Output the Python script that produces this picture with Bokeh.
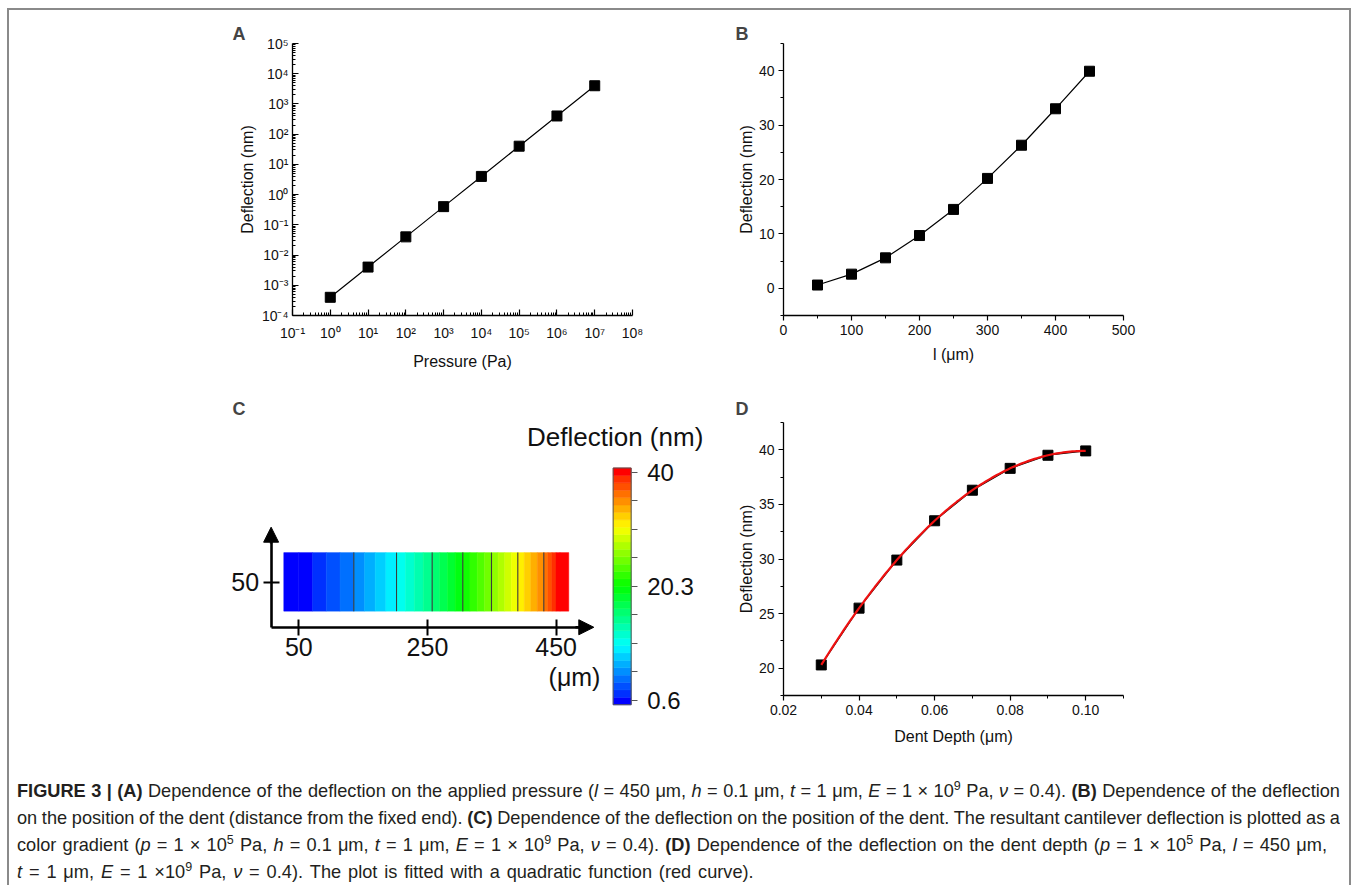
import numpy as np
from bokeh.plotting import figure
from bokeh.models import (FixedTicker, LinearAxis, Range1d, Spacer, Div, Arrow,
                          NormalHead, NumeralTickFormatter)
from bokeh.layouts import row, column
from bokeh.embed import file_html
from bokeh.resources import INLINE
from bokeh.core.properties import value

# ---------------- data ----------------
# Panel A: deflection vs applied pressure (log-log)
a_pressure = [1e0, 1e1, 1e2, 1e3, 1e4, 1e5, 1e6, 1e7]
a_deflection = [4e-4, 4e-3, 4e-2, 0.4, 4.0, 40.0, 400.0, 4000.0]
a_x_exponents = [-1, 0, 1, 2, 3, 4, 5, 6, 7, 8]
a_y_exponents = [-4, -3, -2, -1, 0, 1, 2, 3, 4, 5]

# Panel B: deflection vs position of the dent
b_position = [50, 100, 150, 200, 250, 300, 350, 400, 450]
b_deflection = [0.6, 2.6, 5.6, 9.7, 14.5, 20.2, 26.3, 33.0, 39.9]
b_x_ticks = [0, 100, 200, 300, 400, 500]
b_x_minor = [50, 150, 250, 350, 450]
b_y_ticks = [0, 10, 20, 30, 40]
b_y_minor = [-5, 5, 15, 25, 35, 45]

# Panel C: colour-gradient map of the cantilever
c_level_ticks = [0.6, 5.525, 10.45, 15.375, 20.3, 25.225, 30.15, 35.075, 40.0]
c_level_labels = ["0.6", "", "", "", "20.3", "", "", "", "40"]
c_level_x = [50, 135.5, 201.9, 257.3, 304.9, 349.5, 390.4, 430.8, 456.0]  # um
c_beam_x = [26.7, 469.6]
c_beam_y = [5.0, 96.0]
c_x_ticks = [50, 250, 450]
c_y_ticks = [50]

# Panel D: deflection vs dent depth
d_depth = [0.03, 0.04, 0.05, 0.06, 0.07, 0.08, 0.09, 0.10]
d_deflection = [20.3, 25.5, 29.9, 33.5, 36.3, 38.3, 39.5, 39.9]
d_x_ticks = [0.02, 0.04, 0.06, 0.08, 0.10]
d_x_minor = [0.03, 0.05, 0.07, 0.09, 0.11]
d_y_ticks = [20, 25, 30, 35, 40]
d_y_minor = [17.5, 22.5, 27.5, 32.5, 37.5, 42.5]

FONT = "Liberation Sans"
SUP = str.maketrans("-0123456789", "\u207b\u2070\u00b9\u00b2\u00b3\u2074\u2075\u2076\u2077\u2078\u2079")


def style_axes(p, tick_in, tick_out, minor_in, minor_out):
    for ax in (p.xaxis[0], p.yaxis[0]):
        ax.axis_line_width = 1.3
        ax.axis_line_color = "black"
        ax.major_tick_line_width = 1.2
        ax.minor_tick_line_width = 1.0
        ax.major_tick_in = tick_in
        ax.major_tick_out = tick_out
        ax.minor_tick_in = minor_in
        ax.minor_tick_out = minor_out
        ax.major_label_text_font = FONT
        ax.major_label_text_font_size = "14px"
        ax.major_label_text_color = "#111111"
        ax.axis_label_text_font = FONT
        ax.axis_label_text_font_size = "16px"
        ax.axis_label_text_font_style = "normal"
        ax.axis_label_text_color = "#111111"
    p.grid.visible = False
    p.outline_line_color = None


def panel_title(p, letter, offset, standoff):
    p.title.text = letter
    p.title.align = "left"
    p.title.offset = offset
    p.title.standoff = standoff
    p.title.text_font = FONT
    p.title.text_font_size = "18px"
    p.title.text_font_style = "bold"


def palette_color(t):
    anchors = [(0.0, (0, 0, 255)), (0.25, (0, 255, 255)), (0.5, (0, 255, 0)),
               (0.75, (255, 255, 0)), (1.0, (255, 0, 0))]
    for (t0, c0), (t1, c1) in zip(anchors[:-1], anchors[1:]):
        if t <= t1:
            f = (t - t0) / (t1 - t0)
            return "#%02x%02x%02x" % tuple(int(round(a + (b - a) * f)) for a, b in zip(c0, c1))
    return "#ff0000"


N_SUB = 4
N_COL = (len(c_level_ticks) - 1) * N_SUB
PAL = [palette_color((i + 0.5) / N_COL) for i in range(N_COL)]
PAL[0] = "#0000ff"
PAL[-1] = "#ff0000"

# ---------------- Panel A ----------------
pA = figure(x_axis_type="log", y_axis_type="log",
            x_range=Range1d(0.1, 1e8), y_range=Range1d(1e-4, 1e5),
            frame_width=340, frame_height=272,
            min_border_left=80, min_border_right=71, min_border_top=33, min_border_bottom=70,
            output_backend="svg", toolbar_location=None)
a_xt = [10.0 ** k for k in a_x_exponents]
a_yt = [10.0 ** k for k in a_y_exponents]
pA.xaxis.ticker = FixedTicker(ticks=a_xt, minor_ticks=[m * 10.0 ** k for k in a_x_exponents[:-1] for m in range(2, 10)])
pA.yaxis.ticker = FixedTicker(ticks=a_yt, minor_ticks=[m * 10.0 ** k for k in a_y_exponents[:-1] for m in range(2, 10)])
pA.xaxis.major_label_overrides = {t: "10" + str(k).translate(SUP) for t, k in zip(a_xt, a_x_exponents)}
pA.yaxis.major_label_overrides = {t: "10" + str(k).translate(SUP) for t, k in zip(a_yt, a_y_exponents)}
pA.xaxis.axis_label = "Pressure (Pa)"
pA.yaxis.axis_label = "Deflection (nm)"
style_axes(pA, 6, 0, 3, 0)
pA.xaxis.major_label_standoff = 9
pA.yaxis.major_label_standoff = 4
pA.xaxis.axis_label_standoff = 9
pA.yaxis.axis_label_standoff = 3
panel_title(pA, "A", -60, -1)
pA.line(a_pressure, a_deflection, line_color="black", line_width=1.2)
pA.scatter(a_pressure, a_deflection, marker="square", size=10, fill_color="black", line_color="black")

# ---------------- Panel B ----------------
pB = figure(x_range=Range1d(0, 500), y_range=Range1d(-5, 45),
            frame_width=340, frame_height=272,
            min_border_left=80, min_border_right=20, min_border_top=33, min_border_bottom=70,
            output_backend="svg", toolbar_location=None)
pB.xaxis.ticker = FixedTicker(ticks=b_x_ticks, minor_ticks=b_x_minor)
pB.yaxis.ticker = FixedTicker(ticks=b_y_ticks, minor_ticks=b_y_minor)
pB.xaxis.axis_label = "l (\u03bcm)"
pB.yaxis.axis_label = "Deflection (nm)"
style_axes(pB, 0, 5, 0, 3)
pB.xaxis.major_label_standoff = 4
pB.yaxis.major_label_standoff = 4
pB.xaxis.axis_label_standoff = 8
pB.yaxis.axis_label_standoff = 1
panel_title(pB, "B", -48, -1)
pB.line(b_position, b_deflection, line_color="black", line_width=1.2)
pB.scatter(b_position, b_deflection, marker="square", size=10, fill_color="black", line_color="black")

# ---------------- Panel C ----------------
pC = figure(x_range=Range1d(-84.1, 679.0), y_range=Range1d(-219.3, 298.2),
            frame_width=491, frame_height=333,
            min_border_left=0, min_border_right=0, min_border_top=37, min_border_bottom=0,
            x_axis_location=None, y_axis_location=None,
            output_backend="svg", toolbar_location=None)
pC.grid.visible = False
pC.outline_line_color = None
panel_title(pC, "C", 20, 8)
pC.extra_y_ranges = {"cbar": Range1d(-8.92, 48.61)}

# beam colour fill (contour bands, each split in sub-levels)
lefts, rights, cols = [c_beam_x[0]], [c_level_x[0]], [PAL[0]]
for i in range(len(c_level_x) - 1):
    x0, x1 = c_level_x[i], c_level_x[i + 1]
    for k in range(N_SUB):
        lefts.append(x0 + (x1 - x0) * k / N_SUB)
        rights.append(x0 + (x1 - x0) * (k + 1) / N_SUB)
        cols.append(PAL[i * N_SUB + k])
lefts.append(c_level_x[-1]); rights.append(c_beam_x[1]); cols.append(PAL[-1])
pC.quad(left=lefts, right=rights, bottom=c_beam_y[0], top=c_beam_y[1],
        fill_color=cols, line_color=cols, line_width=0.5)
pC.segment(x0=c_level_x[1:-1], x1=c_level_x[1:-1], y0=c_beam_y[0], y1=c_beam_y[1],
           line_color="#3c3c3c", line_width=1.1)

# arrow axes
xC = LinearAxis(fixed_location=-20, bounds=(7, 495), ticker=FixedTicker(ticks=c_x_ticks))
yC = LinearAxis(fixed_location=7, bounds=(-20, 125), ticker=FixedTicker(ticks=c_y_ticks))
for ax in (xC, yC):
    ax.axis_line_width = 2.6
    ax.axis_line_color = "black"
    ax.major_tick_line_width = 2
    ax.major_tick_in = 8
    ax.major_tick_out = 8
    ax.minor_tick_line_color = None
    ax.major_label_text_font = FONT
    ax.major_label_text_font_size = "25px"
    ax.major_label_text_color = "#111111"
xC.major_label_standoff = 3
yC.major_label_standoff = 4
pC.add_layout(xC, "below")
pC.add_layout(yC, "left")
pC.add_layout(Arrow(end=NormalHead(size=15, fill_color="black", line_color="black"),
                    x_start=480, y_start=-20, x_end=508.5, y_end=-20,
                    line_width=2.6, line_color="black"))
pC.add_layout(Arrow(end=NormalHead(size=15, fill_color="black", line_color="black"),
                    x_start=7, y_start=110, x_end=7, y_end=135.5,
                    line_width=2.6, line_color="black"))

# colour scale (bar reaches a little beyond its end ticks)
cb_pad = 0.75
cb_edges = np.linspace(c_level_ticks[0] - cb_pad, c_level_ticks[-1] + cb_pad, N_COL + 1)
pC.quad(left=538.6, right=566.6, bottom=cb_edges[:-1], top=cb_edges[1:],
        fill_color=PAL, line_color=PAL, line_width=0.5, y_range_name="cbar")
pC.quad(left=538.6, right=566.6, bottom=cb_edges[0], top=cb_edges[-1],
        fill_color=None, line_color="#555555", line_width=1, y_range_name="cbar")
cbAx = LinearAxis(y_range_name="cbar", fixed_location=566.6, bounds=(c_level_ticks[0], c_level_ticks[-1]),
                  ticker=FixedTicker(ticks=c_level_ticks))
cbAx.major_label_overrides = {t: l for t, l in zip(c_level_ticks, c_level_labels)}
cbAx.axis_line_color = None
cbAx.major_tick_in = 0
cbAx.major_tick_out = 6
cbAx.major_tick_line_color = "#555555"
cbAx.minor_tick_line_color = None
cbAx.major_label_standoff = 10
cbAx.major_label_text_font = FONT
cbAx.major_label_text_font_size = "24px"
cbAx.major_label_text_color = "#111111"
pC.add_layout(cbAx, "right")

pC.text(x=[541.7], y=[275.4], text=["Deflection (nm)"], text_font=value(FONT),
        text_font_size=value("26px"), text_align="center", text_baseline="middle", text_color="#111111")
pC.text(x=[478.5], y=[-97.6], text=["(\u03bcm)"], text_font=value(FONT),
        text_font_size=value("25px"), text_align="center", text_baseline="middle", text_color="#111111")

# ---------------- Panel D ----------------
pD = figure(x_range=Range1d(0.02, 0.11), y_range=Range1d(17.5, 42.5),
            frame_width=340, frame_height=273,
            min_border_left=80, min_border_right=20, min_border_top=37, min_border_bottom=60,
            output_backend="svg", toolbar_location=None)
pD.xaxis.ticker = FixedTicker(ticks=d_x_ticks, minor_ticks=d_x_minor)
pD.yaxis.ticker = FixedTicker(ticks=d_y_ticks, minor_ticks=d_y_minor)
pD.xaxis.formatter = NumeralTickFormatter(format="0.00")
pD.xaxis.axis_label = "Dent Depth (\u03bcm)"
pD.yaxis.axis_label = "Deflection (nm)"
style_axes(pD, 0, 5, 0, 3)
pD.xaxis.major_label_standoff = 4
pD.yaxis.major_label_standoff = 4
pD.xaxis.axis_label_standoff = 10
pD.yaxis.axis_label_standoff = 1
panel_title(pD, "D", -48, 8)
coef = np.polyfit(d_depth, d_deflection, 2)
fit_x = np.linspace(min(d_depth), max(d_depth), 120)
pD.line(d_depth, d_deflection, line_color="black", line_width=1.2)
pD.scatter(d_depth, d_deflection, marker="square", size=10, fill_color="black", line_color="black")
pD.line(fit_x, np.polyval(coef, fit_x), line_color="#ee1111", line_width=2.2)

# ---------------- caption ----------------
U = "\u03bcm"
cap_lines = [
    '<b>FIGURE 3 | (A)</b> Dependence of the deflection on the applied pressure (<i>l</i> = 450 ' + U +
    ', <i>h</i> = 0.1 ' + U + ', <i>t</i> = 1 ' + U + ', <i>E</i> = 1 &times; 10<sup>9</sup> Pa, <i>&nu;</i> = 0.4). '
    '<b>(B)</b> Dependence of the deflection',
    'on the position of the dent (distance from the fixed end). <b>(C)</b> Dependence of the deflection on the '
    'position of the dent. The resultant cantilever deflection is plotted as a',
    'color gradient (<i>p</i> = 1 &times; 10<sup>5</sup> Pa, <i>h</i> = 0.1 ' + U + ', <i>t</i> = 1 ' + U +
    ', <i>E</i> = 1 &times; 10<sup>9</sup> Pa, <i>&nu;</i> = 0.4). <b>(D)</b> Dependence of the deflection on the '
    'dent depth (<i>p</i> = 1 &times; 10<sup>5</sup> Pa, <i>l</i> = 450 ' + U + ',',
    '<i>t</i> = 1 ' + U + ', <i>E</i> = 1 &times;10<sup>9</sup> Pa, <i>&nu;</i> = 0.4). The plot is fitted with a '
    'quadratic function (red curve).',
]
line_css = [
    "text-align:justify;text-align-last:justify;word-spacing:-0.6px;",
    "text-align:justify;text-align-last:justify;word-spacing:-0.6px;",
    "word-spacing:1.1px;",
    "word-spacing:1.8px;",
]
sup_css = "<sup style='font-size:12.5px;line-height:0;vertical-align:7px'>"
html = "<div style=\"font-family:'Liberation Sans',Arial,sans-serif;font-size:18.2px;color:#231f20;" \
       "line-height:27px;padding:18px 0 0 3px;\">"
for css, ln in zip(line_css, cap_lines):
    html += "<div style='width:1323px;white-space:nowrap;overflow:hidden;%s'>%s</div>" % (css, ln.replace("<sup>", sup_css))
html += "</div>"
caption = Div(text=html, width=1344, height=124)

row1 = row(Spacer(width=203, height=375), pA, pB)
row2 = row(Spacer(width=203, height=370), pC, pD)
root = column(row1, row2, caption, width=1344,
              styles={"margin-left": "7px", "margin-top": "8px",
                      "border-top": "2px solid #8a8a8a", "border-left": "2px solid #8a8a8a",
                      "border-right": "2px solid #8a8a8a"})

open("out.html", "w").write(file_html(root, INLINE))
